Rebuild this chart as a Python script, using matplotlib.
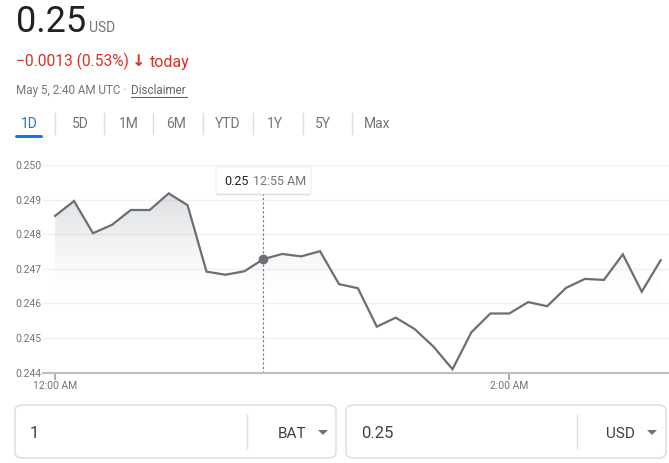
import numpy as np
from matplotlib import pyplot as plt
from matplotlib.patches import FancyBboxPatch, Polygon
from matplotlib.lines import Line2D

plt.rcParams["font.family"] = ["Roboto", "DejaVu Sans"]

# price every 5 minutes from 12:00 AM (minutes after midnight)
minutes = np.arange(0, 165, 5)
price = [
    0.24853, 0.24896, 0.24803, 0.24827, 0.24870, 0.24870, 0.24918, 0.24884,
    0.24692, 0.24683, 0.24693, 0.24728, 0.24743, 0.24736, 0.24751, 0.24656,
    0.24644, 0.24533, 0.24559, 0.24526, 0.24475, 0.24410, 0.24517, 0.24571,
    0.24571, 0.24604, 0.24592, 0.24645, 0.24671, 0.24668, 0.24742, 0.24634,
    0.24725,
]
y_ticks = [0.244, 0.245, 0.246, 0.247, 0.248, 0.249, 0.250]
x_ticks = [0, 120]
x_labels = ["12:00 AM", "2:00 AM"]
hover_idx = 11
hover_text = ("0.25", "12:55 AM")
tabs = ["1D", "5D", "1M", "6M", "YTD", "1Y", "5Y", "Max"]

W, H = 669, 463
GRAY = "#70757a"
LINE = "#6b6f73"


def px(x, y):
    # pixel coords (top-left origin) -> figure fraction
    return x / W, 1 - y / H


fig = plt.figure(figsize=(W / 100, H / 100), dpi=100)

# ---------------- chart ----------------
ax_l, ax_r, ax_t, ax_b = 43, 669, 165, 372.7
ax = fig.add_axes([ax_l / W, 1 - ax_b / H, (ax_r - ax_l) / W, (ax_b - ax_t) / H])
ax.set_xlim(-3.2, 162.2)
ax.set_ylim(0.244, 0.250)

# gradient fill under the line
grad = np.linspace(0, 1, 256).reshape(-1, 1)
rgba = np.zeros((256, 1, 4))
rgba[..., :3] = np.array([0.60, 0.63, 0.65])
rgba[..., 3] = 0.38 * grad[:, 0:1] ** 1.3
img = ax.imshow(rgba, extent=[minutes[0], minutes[-1], 0.2463, 0.2495],
                origin="lower", aspect="auto", zorder=1, interpolation="bilinear")
verts = list(zip(minutes, price)) + [(minutes[-1], 0.244), (minutes[0], 0.244)]
clip = Polygon(verts, closed=True, transform=ax.transData, facecolor="none", edgecolor="none")
ax.add_patch(clip)
img.set_clip_path(clip)

ax.plot(minutes, price, color=LINE, lw=1.6, zorder=3, solid_joinstyle="miter")

# hover guide, dot and tooltip
tip_bottom = 194
ax.axvline(minutes[hover_idx], ymin=0, ymax=(ax_b - tip_bottom) / (ax_b - ax_t),
           color=GRAY, lw=0.8, ls=(0, (2, 2)), zorder=2)
ax.plot(minutes[hover_idx], price[hover_idx], "o", ms=6, color=LINE, zorder=4)

ax.set_yticks(y_ticks)
ax.set_yticklabels([f"{v:.3f}" for v in y_ticks])
ax.set_xticks(x_ticks)
ax.set_xticklabels(x_labels)
ax.grid(axis="y", color="#f1f1f1", lw=1)
ax.set_axisbelow(True)
for s in ["top", "right", "left"]:
    ax.spines[s].set_visible(False)
ax.spines["bottom"].set_color("#bdc1c6")
ax.spines["bottom"].set_linewidth(1.6)
ax.tick_params(axis="y", length=0, pad=1, labelsize=7.5, labelcolor=GRAY)
ax.tick_params(axis="x", length=5, width=1.2, color="#9aa0a6", pad=1,
               labelsize=7.5, labelcolor=GRAY)

# tooltip box
x0, y0, x1, y1 = 216, 167, 311, 194
for off in [1.5, 0.8]:
    fig.add_artist(FancyBboxPatch(px(x0, y1 + off), (x1 - x0) / W, (y1 - y0) / H,
                                  boxstyle="round,pad=0,rounding_size=0.004",
                                  transform=fig.transFigure, facecolor="black", alpha=0.08,
                                  edgecolor="none", zorder=5))
fig.add_artist(FancyBboxPatch(px(x0, y1), (x1 - x0) / W, (y1 - y0) / H,
                              boxstyle="round,pad=0,rounding_size=0.004",
                              transform=fig.transFigure, facecolor="white",
                              edgecolor="#e4e4e4", lw=0.5, zorder=6))
fig.text(*px(224, 185), hover_text[0], fontsize=9, color="#202124", va="baseline", zorder=7)
fig.text(*px(253, 185), hover_text[1], fontsize=9, color=GRAY, va="baseline", zorder=7)

# ---------------- header ----------------
fig.text(*px(15.5, 32.5), "0.25", fontsize=26, color="#202124", va="baseline")
fig.text(*px(89, 32.3), "USD", fontsize=10, color=GRAY, va="baseline")

RED = "#d93025"
fig.text(*px(15.5, 66.5), "\u22120.0013 (0.53%)", fontsize=11.2, color=RED, va="baseline")
fig.text(*px(132, 66.5), "\u2193", fontsize=11.5, color=RED, va="baseline",
         fontweight="bold", family=["DejaVu Sans"])
fig.text(*px(149.5, 66.5), "today", fontsize=11.5, color=RED, va="baseline")

fig.text(*px(15.5, 94.3), "May 5, 2:40 AM UTC \u00b7", fontsize=8.4, color=GRAY, va="baseline")
fig.text(*px(130.5, 94.3), "Disclaimer", fontsize=8.4, color="#5f6368", va="baseline")
fig.add_artist(Line2D([130.5 / W, 187 / W], [1 - 97 / H] * 2, color="#5f6368", lw=0.8))

# tabs
tab_x = [29, 80.5, 129, 176, 227.5, 275, 322.5, 377.5]
for t, xc in zip(tabs, tab_x):
    fig.text(*px(xc, 128.3), t, fontsize=10, ha="center", va="baseline",
             color="#1a73e8" if t == "1D" else GRAY)
for xs in [55, 104, 153, 203, 253, 303, 352]:
    fig.add_artist(Line2D([xs / W] * 2, [1 - 113 / H, 1 - 134 / H], color="#dadce0", lw=1))
fig.add_artist(FancyBboxPatch(px(15, 138), 28 / W, 3 / H,
                              boxstyle="round,pad=0,rounding_size=0.003",
                              transform=fig.transFigure, facecolor="#1a73e8",
                              edgecolor="none"))

# ---------------- converter boxes ----------------
boxes = [(15, 336, 247, "1", "BAT", 278, 318), (346, 666, 577, "0.25", "USD", 606, 647)]
for bl, br, sep, val, cur, cx, tx in boxes:
    fig.add_artist(FancyBboxPatch(px(bl, 458), (br - bl) / W, 53 / H,
                                  boxstyle="round,pad=0,rounding_size=0.012",
                                  transform=fig.transFigure, facecolor="white",
                                  edgecolor="#dadce0", lw=1))
    fig.add_artist(Line2D([sep / W] * 2, [1 - 415 / H, 1 - 448 / H], color="#dadce0", lw=1))
    fig.text(*px(bl + 15, 437.7), val, fontsize=12, color="#3c4043", va="baseline")
    fig.text(*px(cx, 437.7), cur, fontsize=11, color="#3c4043", va="baseline")
    tri = Polygon([px(tx, 430), px(tx + 10, 430), px(tx + 5, 435)], closed=True,
                  transform=fig.transFigure, facecolor=GRAY, edgecolor="none")
    fig.add_artist(tri)

fig.savefig("out.png", dpi=100, facecolor="white")
